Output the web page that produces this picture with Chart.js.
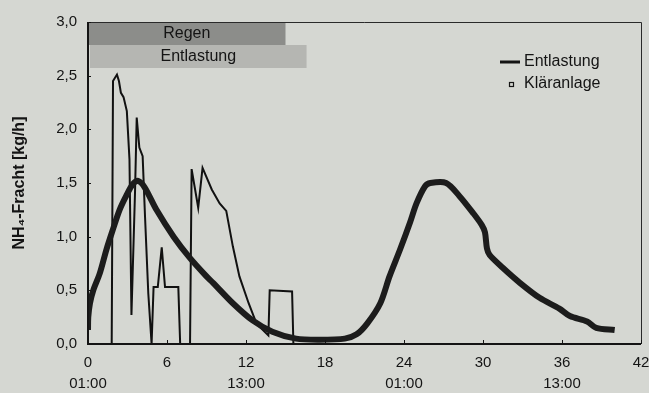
<!DOCTYPE html>
<html lang="de">
<head>
    <meta charset="UTF-8">
    <title>NH4-Fracht</title>
    <script src="https://cdn.jsdelivr.net/npm/chart.js"></script>
    <style>
        html, body { margin: 0; padding: 0; background: #d5d7d2; }
        canvas { display: block; }
    </style>
</head>
<body>
    <canvas id="frachtChart" width="649" height="393"></canvas>

    <script>
        // Entlastung (Stunden / kg/h)
        const entHours = [0, 1.8, 1.9, 2.2, 2.35, 2.5, 2.7, 2.95, 3.15, 3.3, 3.57, 3.7, 3.9, 4.15, 4.33, 4.58, 4.83, 4.98, 5.3, 5.6, 5.85, 6.86, 7.0, 7.75, 7.87, 8.37, 8.7, 9.4, 10.0, 10.5, 11.0, 11.5, 12.2, 12.8, 13.7, 13.8, 15.5, 15.6, 40];
        const entValues = [0, 0, 2.45, 2.51, 2.45, 2.34, 2.30, 2.17, 1.72, 0.27, 1.41, 2.11, 1.83, 1.75, 1.19, 0.47, 0, 0.53, 0.53, 0.9, 0.53, 0.53, 0, 0, 1.63, 1.27, 1.64, 1.44, 1.31, 1.24, 0.91, 0.63, 0.38, 0.19, 0.08, 0.5, 0.49, 0, 0];

        // Kläranlage
        const klaHours = [0, 0.02, 0.15, 0.4, 0.9, 1.4, 1.9, 2.4, 2.9, 3.4, 3.8, 4.3, 5.2, 6.5, 7.75, 9.0, 9.5, 11.0, 12.5, 14.0, 15.8, 17.6, 19.5, 20.4, 21.2, 22.2, 22.9, 23.7, 24.45, 24.95, 25.6, 26.0, 27.2, 28.2, 29.25, 29.9, 30.15, 30.3, 30.5, 31.5, 32.8, 34.3, 35.8, 36.6, 37.9, 38.6, 40.0];
        const klaValues = [0.13, 0.25, 0.38, 0.5, 0.66, 0.88, 1.07, 1.25, 1.38, 1.49, 1.52, 1.46, 1.25, 1.0, 0.8, 0.63, 0.57, 0.38, 0.22, 0.115, 0.05, 0.04, 0.05, 0.09, 0.19, 0.38, 0.63, 0.88, 1.13, 1.31, 1.47, 1.5, 1.5, 1.38, 1.22, 1.11, 1.04, 0.89, 0.83, 0.71, 0.57, 0.43, 0.33, 0.26, 0.21, 0.15, 0.13];

        // Achsen
        const xTicks = [0, 6, 12, 18, 24, 30, 36, 42];
        const xTimeLabels = ['01:00', '', '13:00', '', '01:00', '', '13:00', ''];
        const yTicks = [0, 0.5, 1.0, 1.5, 2.0, 2.5, 3.0];

        // Zeiträume oben (Stunden)
        const rainPeriod = [0, 15];
        const overflowPeriod = [0, 16.6];

        const seriesNames = ['Entlastung', 'Kläranlage'];

        const toPoints = (xs, ys) => xs.map((x, i) => ({ x: x, y: ys[i] }));
        const ink = '#141414';
        const fontFamily = '"Liberation Sans", Arial, sans-serif';

        // Balken "Regen"/"Entlastung", Rahmen, Ticks und Legende
        const decorPlugin = {
            id: 'decor',
            beforeDatasetsDraw(chart) {
                const { ctx, chartArea: a, scales: { x } } = chart;
                ctx.save();
                const barH = 23;
                const rx0 = x.getPixelForValue(rainPeriod[0]);
                const rx1 = x.getPixelForValue(rainPeriod[1]);
                const ox0 = x.getPixelForValue(overflowPeriod[0]) + 2;
                const ox1 = x.getPixelForValue(overflowPeriod[1]);
                ctx.fillStyle = '#8c8d8a';
                ctx.fillRect(rx0, a.top, rx1 - rx0, barH);
                ctx.fillStyle = '#b5b6b2';
                ctx.fillRect(ox0, a.top + barH, ox1 - ox0, barH);
                ctx.fillStyle = ink;
                ctx.font = '16px ' + fontFamily;
                ctx.textAlign = 'center';
                ctx.textBaseline = 'middle';
                ctx.fillText('Regen', (rx0 + rx1) / 2, a.top + barH / 2);
                ctx.fillText('Entlastung', (ox0 + ox1) / 2, a.top + barH * 1.5);
                ctx.restore();
            },
            afterDraw(chart) {
                const { ctx, chartArea: a, scales: { x, y } } = chart;
                ctx.save();
                // Rahmen
                ctx.strokeStyle = '#2a2a2a';
                ctx.lineWidth = 1;
                ctx.beginPath();
                ctx.moveTo(a.left, a.top + 0.5);
                ctx.lineTo(a.right + 0.5, a.top + 0.5);
                ctx.lineTo(a.right + 0.5, a.bottom);
                ctx.stroke();
                ctx.strokeStyle = ink;
                ctx.lineWidth = 2;
                ctx.beginPath();
                ctx.moveTo(a.left, a.top);
                ctx.lineTo(a.left, a.bottom);
                ctx.lineTo(a.right, a.bottom);
                ctx.stroke();
                // kleine Ticks nach innen
                ctx.lineWidth = 1;
                ctx.beginPath();
                x.ticks.forEach(t => {
                    const px = Math.round(x.getPixelForValue(t.value)) + 0.5;
                    ctx.moveTo(px, a.bottom);
                    ctx.lineTo(px, a.bottom - 4);
                });
                y.ticks.forEach(t => {
                    const py = Math.round(y.getPixelForValue(t.value)) + 0.5;
                    ctx.moveTo(a.left, py);
                    ctx.lineTo(a.left + 3, py);
                });
                ctx.stroke();
                // Legende
                const lx = 500, ly = 62;
                ctx.lineWidth = 3;
                ctx.beginPath();
                ctx.moveTo(lx, ly);
                ctx.lineTo(lx + 20, ly);
                ctx.stroke();
                ctx.lineWidth = 1.2;
                ctx.strokeRect(lx + 9.5, ly + 20.5, 4, 4);
                ctx.fillStyle = ink;
                ctx.font = '16px ' + fontFamily;
                ctx.textAlign = 'left';
                ctx.textBaseline = 'middle';
                ctx.fillText(seriesNames[0], lx + 24, ly);
                ctx.fillText(seriesNames[1], lx + 24, ly + 22);
                ctx.restore();
            }
        };

        function createChart() {
            const ctx = document.getElementById('frachtChart').getContext('2d');
            new Chart(ctx, {
                type: 'line',
                data: {
                    datasets: [{
                        label: seriesNames[1],
                        data: toPoints(klaHours, klaValues),
                        borderColor: '#1c1c1c',
                        borderWidth: 6,
                        pointRadius: 0,
                        tension: 0.3,
                        borderJoinStyle: 'round',
                        borderCapStyle: 'butt'
                    }, {
                        label: seriesNames[0],
                        data: toPoints(entHours, entValues),
                        borderColor: '#111',
                        borderWidth: 2,
                        pointRadius: 0,
                        tension: 0
                    }]
                },
                options: {
                    responsive: false,
                    animation: false,
                    devicePixelRatio: 1,
                    layout: { padding: { top: 22, right: 8, left: 0, bottom: 0 } },
                    plugins: {
                        legend: { display: false },
                        tooltip: { enabled: false }
                    },
                    scales: {
                        x: {
                            type: 'linear',
                            min: 0,
                            max: 42,
                            afterBuildTicks: s => { s.ticks = xTicks.map(v => ({ value: v })); },
                            afterFit: s => { s.height = 49; s.paddingRight = 0; s.paddingLeft = 0; },
                            grid: { display: false, drawTicks: false },
                            border: { display: false },
                            ticks: {
                                padding: 8,
                                maxRotation: 0,
                                color: ink,
                                font: { family: fontFamily, size: 15, lineHeight: 1.4 },
                                callback: (v) => {
                                    const i = xTicks.indexOf(v);
                                    return [String(v), xTimeLabels[i] || ''];
                                }
                            }
                        },
                        y: {
                            min: 0,
                            max: 3,
                            afterBuildTicks: s => { s.ticks = yTicks.map(v => ({ value: v })); },
                            afterFit: s => { s.width = 88; s.paddingTop = 0; s.paddingBottom = 0; },
                            grid: { display: false, drawTicks: false },
                            border: { display: false },
                            ticks: {
                                padding: 11,
                                color: ink,
                                font: { family: fontFamily, size: 15 },
                                callback: v => v.toFixed(1).replace('.', ',')
                            },
                            title: {
                                display: true,
                                text: 'NH₄-Fracht [kg/h]',
                                color: ink,
                                padding: { top: 10, bottom: 0 },
                                font: { family: fontFamily, size: 16, weight: 'bold' }
                            }
                        }
                    }
                },
                plugins: [decorPlugin]
            });
        }

        document.addEventListener('DOMContentLoaded', createChart);
    </script>
</body>
</html>
